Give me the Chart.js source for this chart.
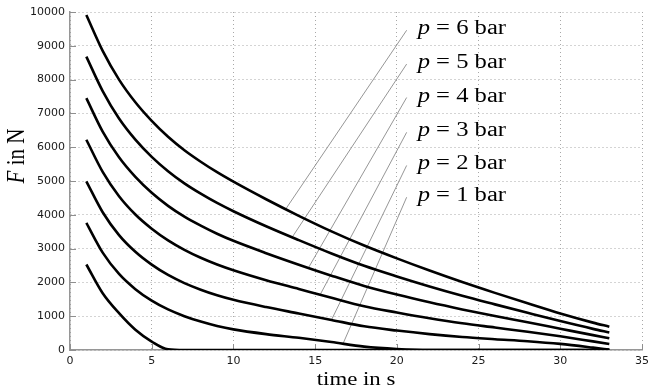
<!DOCTYPE html>
<html>
<head>
<meta charset="utf-8">
<script src="https://cdn.jsdelivr.net/npm/chart.js@4.4.1/dist/chart.umd.min.js"></script>
<style>
html, body { margin: 0; padding: 0; background: #fff; }
</style>
</head>
<body>
<canvas id="forceChart" width="654" height="389"></canvas>
<script>
// time in s (sample points)
var timeSec = [1, 2, 3, 4, 5, 6, 7, 8, 9, 10, 12, 14, 16, 18, 20, 22, 24, 26, 28, 30, 32, 33];

// force in N for each supply pressure
var force6bar = [9910, 8850, 8000, 7330, 6780, 6310, 5910, 5570, 5260, 4980, 4460, 3970, 3510, 3090, 2710, 2350, 2010, 1690, 1380, 1080, 810, 690];
var force5bar = [8680, 7660, 6850, 6225, 5715, 5290, 4930, 4625, 4350, 4105, 3660, 3250, 2855, 2490, 2175, 1880, 1605, 1350, 1100, 855, 625, 520];
var force4bar = [7450, 6460, 5700, 5120, 4650, 4265, 3945, 3680, 3440, 3230, 2865, 2525, 2200, 1895, 1640, 1410, 1200, 1005, 820, 630, 440, 350];
var force3bar = [6220, 5270, 4550, 4010, 3590, 3245, 2965, 2730, 2530, 2360, 2065, 1805, 1545, 1295, 1110, 940, 790, 665, 540, 405, 255, 180];
var force2bar = [4990, 4075, 3400, 2905, 2525, 2220, 1980, 1785, 1620, 1485, 1270, 1080, 890, 700, 575, 470, 385, 320, 260, 180, 70, 10];
var force1bar = [3760, 2880, 2250, 1800, 1460, 1200, 1000, 840, 710, 610, 470, 360, 235, 100, 30, 0, 0, 0, 0, 0, 0, 0];
var force0bar = [2530, 1680, 1090, 600, 250, 20, 0, 0, 0, 0, 0, 0, 0, 0, 0, 0, 0, 0, 0, 0, 0, 0];

// labelled curves, top to bottom
var pressures = [6, 5, 4, 3, 2, 1];
// leader lines from label to curve (time, force)
var leaderTopT = [20.6, 20.6, 20.6, 20.6, 20.6, 20.6];
var leaderTopF = [9460, 8460, 7470, 6440, 5460, 4520];
var leaderEndT = [13.2, 13.6, 14.6, 15.3, 16.0, 16.7];
var leaderEndF = [4170, 3340, 2440, 1630, 890, 180];

var xTitle = 'time in s';
var yTitleVar = 'F';
var yTitleRest = ' in N';

function toPoints(ys) {
    return timeSec.map(function (t, i) {
        return { x: t, y: ys[i] };
    });
}

var curves = [force6bar, force5bar, force4bar, force3bar, force2bar, force1bar, force0bar];
var datasets = curves.map(function (ys) {
    return {
        data: toPoints(ys),
        borderColor: '#000',
        borderWidth: 2.6,
        pointRadius: 0,
        fill: false,
        cubicInterpolationMode: 'monotone'
    };
});
pressures.forEach(function (p, i) {
    datasets.push({
        data: [{ x: leaderTopT[i], y: leaderTopF[i] }, { x: leaderEndT[i], y: leaderEndF[i] }],
        borderColor: '#8a8a8a',
        borderWidth: 0.9,
        pointRadius: 0,
        fill: false,
        tension: 0
    });
});

var SERIF = '"Liberation Serif", "Times New Roman", serif';

function drawParts(ctx, parts, size) {
    var cx = 0;
    parts.forEach(function (part) {
        ctx.font = part[0] + ' ' + size + 'px ' + SERIF;
        ctx.fillText(part[1], cx, 0);
        cx += ctx.measureText(part[1]).width;
    });
}

function partsWidth(ctx, parts, size) {
    var w = 0;
    parts.forEach(function (part) {
        ctx.font = part[0] + ' ' + size + 'px ' + SERIF;
        w += ctx.measureText(part[1]).width;
    });
    return w;
}

var decor = {
    id: 'decor',
    beforeDatasetsDraw: function (chart) {
        // MATLAB-style inward tick marks
        var ctx = chart.ctx, xs = chart.scales.x, ys = chart.scales.y, area = chart.chartArea;
        ctx.save();
        ctx.strokeStyle = '#8f8f8f';
        ctx.lineWidth = 1;
        ctx.beginPath();
        xs.ticks.forEach(function (t) {
            var px = Math.round(xs.getPixelForValue(t.value)) + 0.5;
            ctx.moveTo(px, area.bottom);
            ctx.lineTo(px, area.bottom - 6);
        });
        ys.ticks.forEach(function (t) {
            var py = Math.round(ys.getPixelForValue(t.value)) + 0.5;
            ctx.moveTo(area.left, py);
            ctx.lineTo(area.left + 6, py);
        });
        ctx.stroke();
        ctx.restore();
    },
    afterDatasetsDraw: function (chart) {
        var ctx = chart.ctx, xs = chart.scales.x, ys = chart.scales.y, area = chart.chartArea;
        ctx.save();
        ctx.fillStyle = '#000';
        ctx.textBaseline = 'alphabetic';
        ctx.textAlign = 'left';

        // p = n bar labels
        pressures.forEach(function (p, i) {
            var x = xs.getPixelForValue(leaderTopT[i]) + 11;
            var y = ys.getPixelForValue(leaderTopF[i]) + 4;
            ctx.save();
            ctx.translate(x, y);
            ctx.scale(1.23, 1);
            drawParts(ctx, [['italic', 'p'], ['normal', ' = ' + p + ' bar']], 20);
            ctx.restore();
        });

        // x axis title
        var xParts = [['normal', xTitle]];
        ctx.save();
        ctx.translate((area.left + area.right) / 2, 385);
        ctx.scale(1.2, 1);
        ctx.translate(-partsWidth(ctx, xParts, 19) / 2, 0);
        drawParts(ctx, xParts, 19);
        ctx.restore();

        // y axis title
        var yParts = [['italic', yTitleVar], ['normal', yTitleRest]];
        ctx.save();
        ctx.translate(24, 156);
        ctx.scale(1.2, 1);
        ctx.rotate(-Math.PI / 2);
        ctx.translate(-partsWidth(ctx, yParts, 21) / 2, 0);
        drawParts(ctx, yParts, 21);
        ctx.restore();

        ctx.restore();
    }
};

var tickFont = { family: '"DejaVu Sans", sans-serif', size: 11 };

var chart = new Chart(document.getElementById('forceChart').getContext('2d'), {
    type: 'line',
    data: { datasets: datasets },
    options: {
        responsive: false,
        animation: false,
        devicePixelRatio: 1,
        layout: { padding: { top: 12, right: 5, left: 0, bottom: 0 } },
        plugins: {
            legend: { display: false },
            tooltip: { enabled: false }
        },
        scales: {
            x: {
                type: 'linear',
                min: 0,
                max: 35,
                ticks: {
                    stepSize: 5,
                    font: tickFont,
                    color: '#1a1a1a',
                    padding: 5,
                    maxRotation: 0,
                    callback: function (value) { return String(value); }
                },
                grid: { color: '#a8a8a8', lineWidth: 1, drawTicks: false },
                border: { display: true, color: '#969696', width: 1.5, dash: [1, 3] },
                afterFit: function (scale) { scale.height = 39; }
            },
            y: {
                type: 'linear',
                min: 0,
                max: 10000,
                ticks: {
                    stepSize: 1000,
                    font: tickFont,
                    color: '#1a1a1a',
                    padding: 5,
                    callback: function (value) { return String(value); }
                },
                grid: { color: '#a8a8a8', lineWidth: 1, drawTicks: false },
                border: { display: true, color: '#969696', width: 1.5, dash: [1, 3] },
                afterFit: function (scale) { scale.width = 70; }
            }
        }
    },
    plugins: [decor]
});
</script>
</body>
</html>
